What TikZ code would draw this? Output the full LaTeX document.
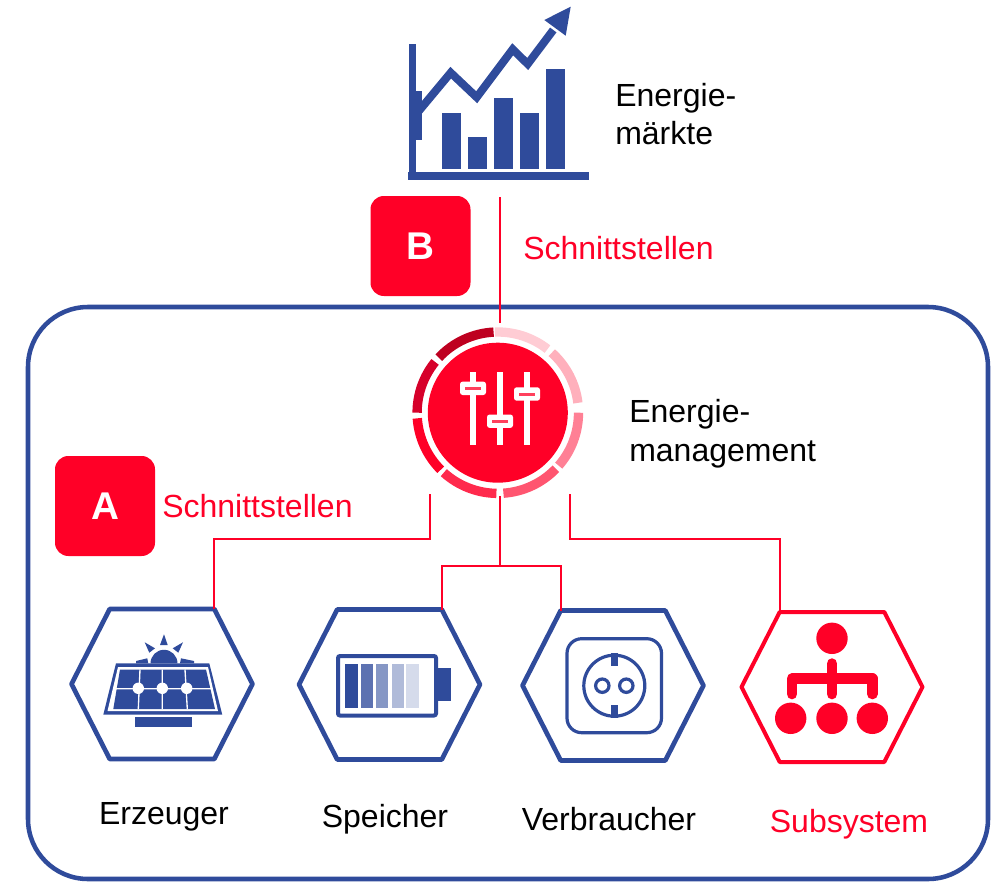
\documentclass[tikz,border=0pt]{standalone}
\usepackage{fontspec}
\setmainfont{Liberation Sans}
\usetikzlibrary{positioning,shapes.symbols}

\definecolor{enblue}{HTML}{2F4B9B}
\definecolor{enred}{HTML}{FF0027}

\begin{document}
\begin{tikzpicture}[x=0.75pt,y=-0.75pt,
    link/.style={draw=enred,line width=1.6pt},
    hexbox/.style={signal,signal to=east and west,signal pointer angle=126,draw=enblue,
      line width=3.5pt,line join=round,minimum width=135.75pt,minimum height=112.5pt,
      inner sep=0pt,outer sep=0pt},
    badge/.style={fill=enred,rounded corners=10pt,minimum size=75pt,inner sep=0pt,
      text=white,font=\fontsize{29}{34}\selectfont\bfseries},
    label/.style={font=\fontsize{24}{29}\selectfont,align=left,anchor=west,inner sep=0pt},
    caption/.style={font=\fontsize{24}{29}\selectfont,anchor=base,inner sep=0pt},
    iconfill/.style={fill=enblue},
    iconline/.style={draw=enblue,line width=2.4pt}]

  \useasboundingbox (0,0) rectangle (1000,882);

  % system frame
  \node[draw=enblue,line width=3.4pt,rounded corners=45pt,minimum width=720pt,
    minimum height=429pt,inner sep=0pt] (system) at (508,593) {};

  % markets icon
  \fill[iconfill] (408,172) rectangle (589,180);
  \fill[iconfill] (409,44) rectangle (416,172);
  \fill[iconfill] (416,91) rectangle (422,140);
  \foreach \barleft/\bartop in {442/113,468/137,494/98,520/113,546/69}
    \fill[iconfill] (\barleft,\bartop) rectangle ++(19,169-\bartop);
  \draw[enblue,line width=6pt] (418,112) -- (450.7,72.7) -- (476.7,97.3)
    -- (512.7,49.3) -- (527.7,64) -- (553.3,30);
  \fill[iconfill] (544.3,20) -- (570.7,6.7) -- (565.7,35.7) -- cycle;
  \coordinate (chartfoot) at (500,197);

  \node[label] (markets) at (615,114) {Energie-\\märkte};
  \node[badge] (badgeb) at (420.5,246) {B};
  \node[label,text=enred] (ifaceb) at (523,248) {Schnittstellen};

  % energy management
  \node[circle,fill=enred,minimum size=105pt,inner sep=0pt] (core) at (497.8,412.7) {};
  \node[circle,minimum size=134.5pt,inner sep=0pt] (mgr) at (497.8,412.7) {};
  \foreach \ringfrom/\ringto/\ringcol in {92/52/FFCCD4,48/7/FFB0BC,0/-41/FF8095,
      -44/-86/FF5570,-91/-132/FF2A4D,-135/-176/FF0027,180/141/D6002A,137/93/BE0020} {
    \definecolor{ringtmp}{HTML}{\ringcol}
    \draw[ringtmp,line width=7pt] ([shift={(-\ringfrom:80.7)}]core.center)
      arc[start angle=-\ringfrom,end angle=-\ringto,radius=80.7];
  }
  \foreach \sliderx/\slidery in {473/388.3,500/421.2,527/394} {
    \fill[white] (\sliderx-3,371.7) rectangle (\sliderx+3,445);
    \fill[white,rounded corners=2pt] (\sliderx-13,\slidery-6.7) rectangle (\sliderx+13,\slidery+6.7);
    \fill[enred!75!white] (\sliderx-8,\slidery-1.5) rectangle (\sliderx+8,\slidery+1.5);
  }
  \node[label] (mgrtext) at (629,434) {Energie-\\management};
  \node[badge] (badgea) at (105,506) {A};
  \node[label,text=enred] (ifacea) at (162,506) {Schnittstellen};

  % hexagons
  \node[hexbox] (producer) at (162,684) {};
  \node[hexbox] (storage) at (389.5,684.5) {};
  \node[hexbox] (consumer) at (613,685.5) {};
  \node[hexbox,draw=enred,line width=3pt] (subsys) at (832,687) {};

  % connectors
  \coordinate (mgrleft) at (430,494);
  \coordinate (mgrdown) at (500,496);
  \coordinate (mgrright) at (570,494);
  \coordinate (split) at (500,566);
  \draw[link] (chartfoot) -- (chartfoot |- mgr.north);
  \draw[link] (mgrleft) -- ++(0,45) -| (producer.north east);
  \draw[link] (mgrdown) -- (split);
  \draw[link] (storage.north east) |- (split) -| (consumer.north west);
  \draw[link] (mgrright) -- ++(0,45) -| (subsys.north west);

  % solar panel
  \fill[iconfill] (135,717) rectangle (192,727);
  \fill[iconfill] (116,663.3) -- (209.3,663.3) -- (222.3,714.7) -- (103.3,714.7) -- cycle;
  \fill[white] (118,667) -- (208,667) -- (218,711) -- (107.5,711) -- cycle;
  \fill[iconfill] (120,669.5) -- (206,669.5) -- (215,709) -- (113.3,709) -- cycle;
  \draw[white,line width=1pt] (116,688.7) -- (212,688.7)
    (140,669.5) -- (138.3,709) (162.3,669.5) -- (162.3,709) (185,669.5) -- (187.3,709);
  \foreach \dotx in {138.3,162.3,186.7}
    \fill[white] (\dotx,688.3) circle[radius=5.7];
  \fill[iconfill] (150.5,663.3) arc[start angle=180,end angle=360,radius=13.5] -- cycle;
  \fill[iconfill] (164,634.3) -- (160,645) -- (167.7,645) -- cycle;
  \fill[iconfill] (144.7,642.3) -- (155,648.3) -- (149.3,652.7) -- cycle;
  \fill[iconfill] (183,642.3) -- (172.7,648.3) -- (178.3,652.7) -- cycle;
  \fill[iconfill] (136,663.3) -- (136,661) -- (147.3,658.3) -- (148.3,663.3) -- cycle;
  \fill[iconfill] (194,663.3) -- (194,661) -- (181,658.3) -- (180,663.3) -- cycle;

  % battery
  \draw[iconline,line width=3pt,rounded corners=1.5pt] (338,656) rectangle (436,715.5);
  \fill[iconfill] (438,668) rectangle (451,700.7);
  \foreach \cellleft/\cellright/\cellshade in {345/358/100,361/373/78,376/388/58,392/404/38,406/419/20}
    \fill[enblue!\cellshade!white] (\cellleft,664) rectangle (\cellright,708);

  % socket
  \draw[iconline,rounded corners=11pt] (567,638.7) rectangle (661.5,732.7);
  \draw[iconline] (614.3,685.7) circle[radius=30.5];
  \draw[iconline] (602.3,685.7) circle[radius=6.7];
  \draw[iconline] (626.3,685.7) circle[radius=6.7];
  \fill[iconfill] (610.7,653.3) rectangle (618,665.7);
  \fill[iconfill] (610.7,705.3) rectangle (618,717.7);

  % subsystem tree
  \draw[enred,line width=8pt,line cap=round,line join=round]
    (832,663.6) -- (832,694) (792,694) -- (792,678.7) -- (872.3,678.7) -- (872.3,694);
  \foreach \nodex/\nodey in {832/638.3,790.7/718.3,832/718.3,872.3/718.3}
    \fill[enred] (\nodex,\nodey) circle[radius=15.7];

  % captions
  \node[caption] (prodtext) at (164,824) {Erzeuger};
  \node[caption] (stortext) at (385,827) {Speicher};
  \node[caption] (constext) at (609,830) {Verbraucher};
  \node[caption,text=enred] (substext) at (849,832) {Subsystem};
\end{tikzpicture}
\end{document}
